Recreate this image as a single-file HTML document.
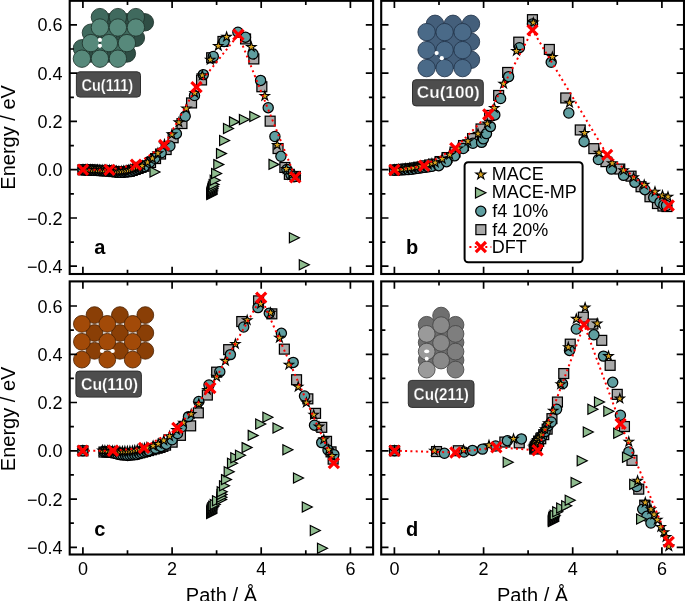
<!DOCTYPE html>
<html lang="en"><head><meta charset="utf-8"><title>Energy profiles</title>
<style>html,body{margin:0;padding:0;background:#fff;overflow:hidden}svg{display:block}</style>
</head><body>
<svg width="685" height="601" viewBox="0 0 685 601" font-family='"Liberation Sans", sans-serif' fill="#000">
<rect width="685" height="601" fill="#fff"/>
<clipPath id="cp0"><rect x="69.7" y="0.8" width="303.4" height="273.2"/></clipPath>
<clipPath id="cp1"><rect x="381.2" y="0.8" width="302.8" height="273.2"/></clipPath>
<clipPath id="cp2"><rect x="69.7" y="281.4" width="303.4" height="273.1"/></clipPath>
<clipPath id="cp3"><rect x="381.2" y="281.4" width="302.8" height="273.1"/></clipPath>
<g stroke="#1f332c" stroke-width="0.85">
<circle cx="108.9" cy="22.3" r="8.7" fill="#2f4e45"/><circle cx="126.9" cy="22.3" r="8.7" fill="#2f4e45"/><circle cx="144.9" cy="22.3" r="8.7" fill="#2f4e45"/><circle cx="99.9" cy="37.9" r="8.7" fill="#2f4e45"/><circle cx="117.9" cy="37.9" r="8.7" fill="#2f4e45"/><circle cx="135.9" cy="37.9" r="8.7" fill="#2f4e45"/><circle cx="90.9" cy="53.5" r="8.7" fill="#2f4e45"/><circle cx="108.9" cy="53.5" r="8.7" fill="#2f4e45"/><circle cx="126.9" cy="53.5" r="8.7" fill="#2f4e45"/><circle cx="99.9" cy="17.1" r="8.7" fill="#406a5e"/><circle cx="117.9" cy="17.1" r="8.7" fill="#406a5e"/><circle cx="135.9" cy="17.1" r="8.7" fill="#406a5e"/><circle cx="90.9" cy="32.7" r="8.7" fill="#406a5e"/><circle cx="108.9" cy="32.7" r="8.7" fill="#406a5e"/><circle cx="126.9" cy="32.7" r="8.7" fill="#406a5e"/><circle cx="81.9" cy="48.3" r="8.7" fill="#406a5e"/><circle cx="99.9" cy="48.3" r="8.7" fill="#406a5e"/><circle cx="117.9" cy="48.3" r="8.7" fill="#406a5e"/><circle cx="99.9" cy="27.5" r="8.7" fill="#57897b"/><circle cx="117.9" cy="27.5" r="8.7" fill="#57897b"/><circle cx="135.9" cy="27.5" r="8.7" fill="#57897b"/><circle cx="90.9" cy="43.1" r="8.7" fill="#57897b"/><circle cx="108.9" cy="43.1" r="8.7" fill="#57897b"/><circle cx="126.9" cy="43.1" r="8.7" fill="#57897b"/><circle cx="81.9" cy="58.7" r="8.7" fill="#57897b"/><circle cx="99.9" cy="58.7" r="8.7" fill="#57897b"/><circle cx="117.9" cy="58.7" r="8.7" fill="#57897b"/>
</g>
<circle cx="99.9" cy="39.9" r="2.1" fill="#fff"/><circle cx="99.9" cy="45.8" r="2.1" fill="#fff"/>
<rect x="76.4" y="71.8" width="64.1" height="25.3" rx="3.5" fill="#4d4d4d" stroke="#2e2e2e" stroke-width="1"/>
<text x="81.4" y="90.7" font-size="16.5" font-weight="bold" fill="#fff" stroke="#4d4d4d" stroke-width="0.25" textLength="51.8" lengthAdjust="spacingAndGlyphs">Cu(111)</text>
<g stroke="#22344a" stroke-width="0.85">
<circle cx="435" cy="23.8" r="8.7" fill="#445f7b"/><circle cx="453" cy="23.8" r="8.7" fill="#445f7b"/><circle cx="471" cy="23.8" r="8.7" fill="#445f7b"/><circle cx="435" cy="41.8" r="8.7" fill="#445f7b"/><circle cx="453" cy="41.8" r="8.7" fill="#445f7b"/><circle cx="471" cy="41.8" r="8.7" fill="#445f7b"/><circle cx="435" cy="59.8" r="8.7" fill="#445f7b"/><circle cx="453" cy="59.8" r="8.7" fill="#445f7b"/><circle cx="471" cy="59.8" r="8.7" fill="#445f7b"/><circle cx="426.6" cy="32.1" r="8.7" fill="#4a6a88"/><circle cx="444.6" cy="32.1" r="8.7" fill="#4a6a88"/><circle cx="462.6" cy="32.1" r="8.7" fill="#4a6a88"/><circle cx="426.6" cy="50.1" r="8.7" fill="#4a6a88"/><circle cx="444.6" cy="50.1" r="8.7" fill="#4a6a88"/><circle cx="462.6" cy="50.1" r="8.7" fill="#4a6a88"/><circle cx="426.6" cy="68.1" r="8.7" fill="#4a6a88"/><circle cx="444.6" cy="68.1" r="8.7" fill="#4a6a88"/><circle cx="462.6" cy="68.1" r="8.7" fill="#4a6a88"/>
</g>
<circle cx="436.6" cy="53.1" r="2.1" fill="#fff"/><circle cx="441.8" cy="58.2" r="2.1" fill="#fff"/>
<rect x="412.5" y="79.7" width="70.8" height="26.2" rx="3.5" fill="#4d4d4d" stroke="#2e2e2e" stroke-width="1"/>
<text x="416.8" y="98" font-size="16.5" font-weight="bold" fill="#fff" stroke="#4d4d4d" stroke-width="0.25" textLength="62.9" lengthAdjust="spacingAndGlyphs">Cu(100)</text>
<g stroke="#4e2303" stroke-width="0.85">
<circle cx="94.5" cy="315.1" r="8.4" fill="#8a3f06"/><circle cx="119.9" cy="315.1" r="8.4" fill="#8a3f06"/><circle cx="145.3" cy="315.1" r="8.4" fill="#8a3f06"/><circle cx="94.5" cy="333" r="8.4" fill="#8a3f06"/><circle cx="119.9" cy="333" r="8.4" fill="#8a3f06"/><circle cx="145.3" cy="333" r="8.4" fill="#8a3f06"/><circle cx="94.5" cy="350.8" r="8.4" fill="#8a3f06"/><circle cx="119.9" cy="350.8" r="8.4" fill="#8a3f06"/><circle cx="145.3" cy="350.8" r="8.4" fill="#8a3f06"/><circle cx="81.9" cy="323.9" r="8.4" fill="#a24a08"/><circle cx="107.3" cy="323.9" r="8.4" fill="#a24a08"/><circle cx="132.7" cy="323.9" r="8.4" fill="#a24a08"/><circle cx="81.9" cy="341.8" r="8.4" fill="#a24a08"/><circle cx="107.3" cy="341.8" r="8.4" fill="#a24a08"/><circle cx="132.7" cy="341.8" r="8.4" fill="#a24a08"/><circle cx="81.9" cy="359.6" r="8.4" fill="#a24a08"/><circle cx="107.3" cy="359.6" r="8.4" fill="#a24a08"/><circle cx="132.7" cy="359.6" r="8.4" fill="#a24a08"/>
</g>
<circle cx="102" cy="351" r="2.1" fill="#fff"/><circle cx="112.7" cy="351" r="2.1" fill="#fff"/>
<rect x="75.9" y="371.1" width="65.5" height="26" rx="3.5" fill="#4d4d4d" stroke="#2e2e2e" stroke-width="1"/>
<text x="81" y="390.4" font-size="16.5" font-weight="bold" fill="#fff" stroke="#4d4d4d" stroke-width="0.25" textLength="57.1" lengthAdjust="spacingAndGlyphs">Cu(110)</text>
<g stroke="#444" stroke-width="0.85">
<circle cx="426.7" cy="324.8" r="8.4" fill="#6f6f6f"/><circle cx="426.7" cy="342.4" r="8.4" fill="#6f6f6f"/><circle cx="426.7" cy="360.1" r="8.4" fill="#6f6f6f"/><circle cx="455.5" cy="324.8" r="8.4" fill="#6f6f6f"/><circle cx="455.5" cy="342.4" r="8.4" fill="#6f6f6f"/><circle cx="455.5" cy="360.1" r="8.4" fill="#6f6f6f"/><circle cx="441.1" cy="315.6" r="8.4" fill="#6f6f6f"/><circle cx="441.1" cy="333.9" r="8.4" fill="#6f6f6f"/><circle cx="441.1" cy="351.6" r="8.4" fill="#6f6f6f"/><circle cx="455.5" cy="333.9" r="8.4" fill="#7e7e7e"/><circle cx="455.5" cy="351.6" r="8.4" fill="#7e7e7e"/><circle cx="455.5" cy="369.6" r="8.4" fill="#7e7e7e"/><circle cx="426.7" cy="333.9" r="8.4" fill="#9a9a9a"/><circle cx="426.7" cy="351.6" r="8.4" fill="#9a9a9a"/><circle cx="426.7" cy="369.6" r="8.4" fill="#9a9a9a"/><circle cx="441.1" cy="325.2" r="8.4" fill="#898989"/><circle cx="441.1" cy="342.9" r="8.4" fill="#898989"/><circle cx="441.1" cy="360.5" r="8.4" fill="#898989"/>
</g>
<ellipse cx="426.7" cy="351.4" rx="2.6" ry="1.8" fill="#fff"/><circle cx="426.7" cy="358.8" r="2.0" fill="#fff"/>
<rect x="408.3" y="380.4" width="65.7" height="27" rx="3.5" fill="#4d4d4d" stroke="#2e2e2e" stroke-width="1"/>
<text x="413.6" y="399.8" font-size="16.5" font-weight="bold" fill="#fff" stroke="#4d4d4d" stroke-width="0.25" textLength="55.3" lengthAdjust="spacingAndGlyphs">Cu(211)</text>
<g clip-path="url(#cp0)">
<g fill="#A9A9A9" stroke="#000" stroke-width="1.25">
<rect x="78" y="164.8" width="9.9" height="9.9"/><rect x="81.1" y="164.9" width="9.9" height="9.9"/><rect x="84.2" y="165" width="9.9" height="9.9"/><rect x="87.3" y="165.2" width="9.9" height="9.9"/><rect x="90.4" y="165.3" width="9.9" height="9.9"/><rect x="93.5" y="165.5" width="9.9" height="9.9"/><rect x="96.6" y="165.6" width="9.9" height="9.9"/><rect x="99.7" y="165.8" width="9.9" height="9.9"/><rect x="102.8" y="165.9" width="9.9" height="9.9"/><rect x="105.9" y="166.2" width="9.9" height="9.9"/><rect x="109" y="166.6" width="9.9" height="9.9"/><rect x="112.1" y="167" width="9.9" height="9.9"/><rect x="115.1" y="167.3" width="9.9" height="9.9"/><rect x="118.2" y="167" width="9.9" height="9.9"/><rect x="121.3" y="166.7" width="9.9" height="9.9"/><rect x="124.4" y="166.4" width="9.9" height="9.9"/><rect x="127.3" y="165.5" width="9.9" height="9.9"/><rect x="130.3" y="164.5" width="9.9" height="9.9"/><rect x="133.2" y="163.5" width="9.9" height="9.9"/><rect x="136.1" y="162.4" width="9.9" height="9.9"/><rect x="139" y="161.3" width="9.9" height="9.9"/><rect x="145.6" y="157.6" width="9.9" height="9.9"/><rect x="150.6" y="153.6" width="9.9" height="9.9"/><rect x="155.6" y="149.1" width="9.9" height="9.9"/><rect x="161.2" y="144.6" width="9.9" height="9.9"/><rect x="168.2" y="132.8" width="9.9" height="9.9"/><rect x="177" y="118.6" width="9.9" height="9.9"/><rect x="186.6" y="98" width="9.9" height="9.9"/><rect x="196.6" y="75" width="9.9" height="9.9"/><rect x="206.7" y="52.8" width="9.9" height="9.9"/><rect x="218" y="36.5" width="9.9" height="9.9"/><rect x="240.6" y="34" width="9.9" height="9.9"/><rect x="248.9" y="54" width="9.9" height="9.9"/><rect x="256.9" y="81.8" width="9.9" height="9.9"/><rect x="265.2" y="116.2" width="9.9" height="9.9"/><rect x="273.1" y="143.6" width="9.9" height="9.9"/><rect x="279.9" y="162.5" width="9.9" height="9.9"/><rect x="284.4" y="169.4" width="9.9" height="9.9"/><rect x="290.4" y="171.5" width="9.9" height="9.9"/>
</g>
<g fill="#5F9EA0" stroke="#000" stroke-width="1.25">
<circle cx="83" cy="169.9" r="5.1"/><circle cx="85.7" cy="170" r="5.1"/><circle cx="88.4" cy="170.1" r="5.1"/><circle cx="91.1" cy="170.2" r="5.1"/><circle cx="93.8" cy="170.3" r="5.1"/><circle cx="96.5" cy="170.4" r="5.1"/><circle cx="99.2" cy="170.6" r="5.1"/><circle cx="101.9" cy="170.7" r="5.1"/><circle cx="104.6" cy="170.8" r="5.1"/><circle cx="107.3" cy="170.9" r="5.1"/><circle cx="110" cy="171" r="5.1"/><circle cx="112.6" cy="171.4" r="5.1"/><circle cx="115.3" cy="171.8" r="5.1"/><circle cx="118" cy="172.2" r="5.1"/><circle cx="120.7" cy="172.4" r="5.1"/><circle cx="123.3" cy="172.2" r="5.1"/><circle cx="126" cy="171.9" r="5.1"/><circle cx="128.7" cy="171.6" r="5.1"/><circle cx="131.3" cy="171" r="5.1"/><circle cx="133.9" cy="170.1" r="5.1"/><circle cx="136.4" cy="169.2" r="5.1"/><circle cx="139" cy="168.4" r="5.1"/><circle cx="141.5" cy="167.5" r="5.1"/><circle cx="144.1" cy="166.6" r="5.1"/><circle cx="149.8" cy="162.3" r="5.1"/><circle cx="154.8" cy="158.3" r="5.1"/><circle cx="161.2" cy="152.8" r="5.1"/><circle cx="169.9" cy="146" r="5.1"/><circle cx="176.4" cy="133.7" r="5.1"/><circle cx="185.2" cy="116.3" r="5.1"/><circle cx="194.5" cy="95.5" r="5.1"/><circle cx="203.3" cy="74.6" r="5.1"/><circle cx="213.3" cy="56.5" r="5.1"/><circle cx="224.1" cy="41.5" r="5.1"/><circle cx="237.9" cy="32.2" r="5.1"/><circle cx="245.5" cy="37.2" r="5.1"/><circle cx="253" cy="54" r="5.1"/><circle cx="260.6" cy="80.4" r="5.1"/><circle cx="268.2" cy="107.7" r="5.1"/><circle cx="274.9" cy="136.5" r="5.1"/><circle cx="280.9" cy="156.3" r="5.1"/><circle cx="286.9" cy="169.5" r="5.1"/><circle cx="291" cy="174.5" r="5.1"/><circle cx="294" cy="176.7" r="5.1"/>
</g>
<g fill="#8FBC8F" stroke="#000" stroke-width="1.2" stroke-linejoin="miter">
<polygon points="150,167 160,172 150,177"/><polygon points="206.8,189.6 216.8,194.6 206.8,199.6"/><polygon points="206.9,188.8 216.9,193.8 206.9,198.8"/><polygon points="207,188 217,193 207,198"/><polygon points="207.1,187.1 217.1,192.1 207.1,197.1"/><polygon points="207.3,186.1 217.3,191.1 207.3,196.1"/><polygon points="207.6,184.9 217.6,189.9 207.6,194.9"/><polygon points="207.9,183.5 217.9,188.5 207.9,193.5"/><polygon points="208.4,181.8 218.4,186.8 208.4,191.8"/><polygon points="209.1,179.6 219.1,184.6 209.1,189.6"/><polygon points="210.2,175.3 220.2,180.3 210.2,185.3"/><polygon points="211.6,168.5 221.6,173.5 211.6,178.5"/><polygon points="213.8,159.6 223.8,164.6 213.8,169.6"/><polygon points="216.5,148.6 226.5,153.6 216.5,158.6"/><polygon points="219.6,135.5 229.6,140.5 219.6,145.5"/><polygon points="223.5,123.5 233.5,128.5 223.5,133.5"/><polygon points="229.5,116.9 239.5,121.9 229.5,126.9"/><polygon points="239.4,114.5 249.4,119.5 239.4,124.5"/><polygon points="249.8,111.5 259.8,116.5 249.8,121.5"/><polygon points="269,159.4 279,164.4 269,169.4"/><polygon points="289.4,232.8 299.4,237.8 289.4,242.8"/><polygon points="299.3,259.8 309.3,264.8 299.3,269.8"/>
</g>
<g fill="#DAA520" stroke="#000" stroke-width="1.1" stroke-linejoin="miter">
<polygon points="83,164.8 84.1,168.2 87.7,168.2 84.8,170.3 85.9,173.7 83,171.6 80.1,173.7 81.2,170.3 78.3,168.2 81.9,168.2"/><polygon points="85.4,164.9 86.5,168.2 90.1,168.2 87.2,170.3 88.3,173.7 85.4,171.6 82.5,173.7 83.6,170.3 80.7,168.2 84.3,168.2"/><polygon points="87.8,164.9 88.9,168.3 92.5,168.3 89.6,170.4 90.7,173.8 87.8,171.7 84.9,173.8 86,170.4 83.1,168.3 86.7,168.3"/><polygon points="90.2,165 91.3,168.3 94.9,168.3 92,170.4 93.1,173.8 90.2,171.7 87.3,173.8 88.4,170.4 85.5,168.3 89.1,168.3"/><polygon points="92.6,165 93.7,168.4 97.3,168.4 94.4,170.5 95.5,173.9 92.6,171.8 89.7,173.9 90.8,170.5 87.9,168.4 91.5,168.4"/><polygon points="95,165.1 96.1,168.5 99.7,168.5 96.8,170.5 97.9,173.9 95,171.8 92.1,173.9 93.2,170.5 90.3,168.5 93.9,168.5"/><polygon points="97.4,165.1 98.5,168.5 102.1,168.5 99.2,170.6 100.3,174 97.4,171.9 94.5,174 95.6,170.6 92.7,168.5 96.3,168.5"/><polygon points="99.8,165.2 100.9,168.6 104.5,168.6 101.6,170.7 102.7,174 99.8,171.9 96.9,174 98,170.7 95.1,168.6 98.7,168.6"/><polygon points="102.2,165.2 103.3,168.6 106.9,168.6 104,170.7 105.1,174.1 102.2,172 99.3,174.1 100.4,170.7 97.5,168.6 101.1,168.6"/><polygon points="104.6,165.3 105.7,168.7 109.3,168.7 106.4,170.8 107.5,174.1 104.6,172.1 101.7,174.1 102.8,170.8 99.9,168.7 103.5,168.7"/><polygon points="107,165.3 108.1,168.7 111.7,168.7 108.8,170.8 109.9,174.2 107,172.1 104.1,174.2 105.2,170.8 102.3,168.7 105.9,168.7"/><polygon points="109.4,165.4 110.5,168.8 114.1,168.8 111.2,170.9 112.3,174.3 109.4,172.2 106.5,174.3 107.6,170.9 104.7,168.8 108.3,168.8"/><polygon points="111.8,165.6 112.9,169 116.4,169 113.6,171.1 114.7,174.5 111.8,172.4 108.9,174.5 110,171.1 107.1,169 110.7,169"/><polygon points="114.2,165.9 115.3,169.3 118.8,169.3 115.9,171.4 117,174.8 114.2,172.7 111.3,174.8 112.4,171.4 109.5,169.3 113.1,169.3"/><polygon points="116.5,166.2 117.6,169.6 121.2,169.6 118.3,171.7 119.4,175 116.5,173 113.7,175 114.8,171.7 111.9,169.6 115.4,169.6"/><polygon points="118.9,166.5 120,169.9 123.6,169.9 120.7,171.9 121.8,175.3 118.9,173.2 116,175.3 117.1,171.9 114.3,169.9 117.8,169.9"/><polygon points="121.3,166.4 122.4,169.8 126,169.8 123.1,171.9 124.2,175.3 121.3,173.2 118.4,175.3 119.5,171.9 116.6,169.8 120.2,169.8"/><polygon points="123.7,166 124.8,169.4 128.3,169.4 125.5,171.5 126.6,174.9 123.7,172.8 120.8,174.9 121.9,171.5 119,169.4 122.6,169.4"/><polygon points="126.1,165.7 127.2,169.1 130.7,169.1 127.8,171.2 128.9,174.6 126.1,172.5 123.2,174.6 124.3,171.2 121.4,169.1 125,169.1"/><polygon points="128.4,165.3 129.5,168.7 133.1,168.7 130.2,170.8 131.3,174.2 128.4,172.1 125.5,174.2 126.6,170.8 123.8,168.7 127.3,168.7"/><polygon points="130.8,164.8 131.9,168.2 135.4,168.2 132.5,170.3 133.6,173.7 130.8,171.6 127.9,173.7 129,170.3 126.1,168.2 129.7,168.2"/><polygon points="133,164 134.1,167.4 137.7,167.4 134.8,169.5 135.9,172.9 133,170.8 130.1,172.9 131.2,169.5 128.4,167.4 131.9,167.4"/><polygon points="135.3,163.2 136.4,166.6 139.9,166.6 137.1,168.7 138.2,172.1 135.3,170 132.4,172.1 133.5,168.7 130.6,166.6 134.2,166.6"/><polygon points="137.6,162.4 138.7,165.8 142.2,165.8 139.3,167.9 140.4,171.3 137.6,169.2 134.7,171.3 135.8,167.9 132.9,165.8 136.5,165.8"/><polygon points="139.8,161.7 140.9,165.1 144.5,165.1 141.6,167.2 142.7,170.6 139.8,168.5 137,170.6 138.1,167.2 135.2,165.1 138.7,165.1"/><polygon points="142.1,161 143.2,164.4 146.8,164.4 143.9,166.5 145,169.9 142.1,167.8 139.3,169.9 140.4,166.5 137.5,164.4 141,164.4"/><polygon points="147.6,157.5 148.7,160.9 152.3,160.9 149.4,163 150.5,166.4 147.6,164.3 144.7,166.4 145.8,163 142.9,160.9 146.5,160.9"/><polygon points="152.4,153.5 153.5,156.9 157.1,156.9 154.2,159 155.3,162.4 152.4,160.3 149.5,162.4 150.6,159 147.7,156.9 151.3,156.9"/><polygon points="157.9,148.3 159,151.7 162.6,151.7 159.7,153.8 160.8,157.2 157.9,155.1 155,157.2 156.1,153.8 153.2,151.7 156.8,151.7"/><polygon points="164.5,139.6 165.6,143 169.2,143 166.3,145.1 167.4,148.5 164.5,146.4 161.6,148.5 162.7,145.1 159.8,143 163.4,143"/><polygon points="171.9,129.5 173,132.9 176.6,132.9 173.7,135 174.8,138.4 171.9,136.3 169,138.4 170.1,135 167.2,132.9 170.8,132.9"/><polygon points="178.9,117.5 180,120.9 183.6,120.9 180.7,123 181.8,126.4 178.9,124.3 176,126.4 177.1,123 174.2,120.9 177.8,120.9"/><polygon points="186.4,103.6 187.5,107 191.1,107 188.2,109.1 189.3,112.5 186.4,110.4 183.5,112.5 184.6,109.1 181.7,107 185.3,107"/><polygon points="194.7,88.1 195.8,91.5 199.4,91.5 196.5,93.6 197.6,97 194.7,94.9 191.8,97 192.9,93.6 190,91.5 193.6,91.5"/><polygon points="202.3,70.5 203.4,73.9 207,73.9 204.1,76 205.2,79.4 202.3,77.3 199.4,79.4 200.5,76 197.6,73.9 201.2,73.9"/><polygon points="210.3,54.9 211.4,58.3 215,58.3 212.1,60.4 213.2,63.8 210.3,61.7 207.4,63.8 208.5,60.4 205.6,58.3 209.2,58.3"/><polygon points="218.3,41.1 219.4,44.5 223,44.5 220.1,46.6 221.2,50 218.3,47.9 215.4,50 216.5,46.6 213.6,44.5 217.2,44.5"/><polygon points="226.6,32 227.7,35.4 231.3,35.4 228.4,37.5 229.5,40.9 226.6,38.8 223.7,40.9 224.8,37.5 221.9,35.4 225.5,35.4"/><polygon points="251.3,42.1 252.4,45.5 256,45.5 253.1,47.6 254.2,51 251.3,48.9 248.4,51 249.5,47.6 246.6,45.5 250.2,45.5"/><polygon points="264.8,91.1 265.9,94.5 269.5,94.5 266.6,96.6 267.7,100 264.8,97.9 261.9,100 263,96.6 260.1,94.5 263.7,94.5"/><polygon points="277.2,140.1 278.3,143.5 281.9,143.5 279,145.6 280.1,149 277.2,146.9 274.3,149 275.4,145.6 272.5,143.5 276.1,143.5"/><polygon points="286.3,164.1 287.4,167.5 291,167.5 288.1,169.6 289.2,173 286.3,170.9 283.4,173 284.5,169.6 281.6,167.5 285.2,167.5"/><polygon points="291.5,170.1 292.6,173.5 296.2,173.5 293.3,175.6 294.4,179 291.5,176.9 288.6,179 289.7,175.6 286.8,173.5 290.4,173.5"/><polygon points="295,172.1 296.1,175.5 299.7,175.5 296.8,177.6 297.9,181 295,178.9 292.1,181 293.2,177.6 290.3,175.5 293.9,175.5"/>
</g>
<polyline points="82.9,169.7 109.5,169.8 136,164.7 164.2,145.1 196.5,87.2 238.4,34.7 295.3,177.3" fill="none" stroke="#f00" stroke-width="2" stroke-dasharray="2 3.3"/>
<g fill="none" stroke="#f00" stroke-width="3.2">
<path d="M77.9 164.6L88 174.8M77.9 174.8L88 164.6"/><path d="M104.5 164.8L114.5 174.9M104.5 174.9L114.5 164.8"/><path d="M130.9 159.6L141.1 169.8M130.9 169.8L141.1 159.6"/><path d="M159.1 140L169.2 150.2M159.1 150.2L169.2 140"/><path d="M191.4 82.2L201.6 92.2M191.4 92.2L201.6 82.2"/><path d="M233.3 29.7L243.5 39.8M233.3 39.8L243.5 29.7"/><path d="M290.2 172.2L300.4 182.4M290.2 182.4L300.4 172.2"/>
</g>
</g>
<g clip-path="url(#cp1)">
<g fill="#A9A9A9" stroke="#000" stroke-width="1.25">
<rect x="389.6" y="165.1" width="9.9" height="9.9"/><rect x="393.1" y="164.8" width="9.9" height="9.9"/><rect x="396.7" y="164.5" width="9.9" height="9.9"/><rect x="400.3" y="164.2" width="9.9" height="9.9"/><rect x="403.9" y="163.9" width="9.9" height="9.9"/><rect x="407.5" y="163.5" width="9.9" height="9.9"/><rect x="411" y="162.9" width="9.9" height="9.9"/><rect x="414.6" y="162.3" width="9.9" height="9.9"/><rect x="418.1" y="161.7" width="9.9" height="9.9"/><rect x="421.6" y="160.9" width="9.9" height="9.9"/><rect x="425.1" y="160" width="9.9" height="9.9"/><rect x="428.6" y="159.2" width="9.9" height="9.9"/><rect x="435.1" y="156.6" width="9.9" height="9.9"/><rect x="442.1" y="152.6" width="9.9" height="9.9"/><rect x="450.1" y="147.1" width="9.9" height="9.9"/><rect x="458.6" y="140.6" width="9.9" height="9.9"/><rect x="467.6" y="133.6" width="9.9" height="9.9"/><rect x="476.1" y="124" width="9.9" height="9.9"/><rect x="484.6" y="110.5" width="9.9" height="9.9"/><rect x="493.7" y="90.5" width="9.9" height="9.9"/><rect x="502.7" y="67.5" width="9.9" height="9.9"/><rect x="513.8" y="37.2" width="9.9" height="9.9"/><rect x="527.5" y="14.7" width="9.9" height="9.9"/><rect x="544.4" y="44.5" width="9.9" height="9.9"/><rect x="560.8" y="93" width="9.9" height="9.9"/><rect x="575.3" y="125" width="9.9" height="9.9"/><rect x="588.9" y="143.7" width="9.9" height="9.9"/><rect x="601" y="156.7" width="9.9" height="9.9"/><rect x="614.8" y="164.1" width="9.9" height="9.9"/><rect x="626.1" y="171.2" width="9.9" height="9.9"/><rect x="636.1" y="181.8" width="9.9" height="9.9"/><rect x="645" y="191.8" width="9.9" height="9.9"/><rect x="652.5" y="198.6" width="9.9" height="9.9"/><rect x="658" y="201.1" width="9.9" height="9.9"/><rect x="662" y="201.6" width="9.9" height="9.9"/>
</g>
<g fill="#5F9EA0" stroke="#000" stroke-width="1.25">
<circle cx="394.5" cy="170.2" r="5.1"/><circle cx="397.9" cy="170" r="5.1"/><circle cx="401.3" cy="169.9" r="5.1"/><circle cx="404.7" cy="169.7" r="5.1"/><circle cx="408.1" cy="169.6" r="5.1"/><circle cx="411.5" cy="169.3" r="5.1"/><circle cx="414.8" cy="168.8" r="5.1"/><circle cx="418.2" cy="168.3" r="5.1"/><circle cx="421.6" cy="167.8" r="5.1"/><circle cx="424.9" cy="167.4" r="5.1"/><circle cx="428.3" cy="166.9" r="5.1"/><circle cx="431.7" cy="166.4" r="5.1"/><circle cx="438.7" cy="165.7" r="5.1"/><circle cx="446.6" cy="161.7" r="5.1"/><circle cx="454.5" cy="155.9" r="5.1"/><circle cx="463.2" cy="148.5" r="5.1"/><circle cx="472.9" cy="143.3" r="5.1"/><circle cx="481.6" cy="142.4" r="5.1"/><circle cx="483.4" cy="138.9" r="5.1"/><circle cx="486.5" cy="133.6" r="5.1"/><circle cx="490.4" cy="126.6" r="5.1"/><circle cx="494.8" cy="114.9" r="5.1"/><circle cx="500.6" cy="98.5" r="5.1"/><circle cx="508.6" cy="76.6" r="5.1"/><circle cx="519.4" cy="47.7" r="5.1"/><circle cx="532.5" cy="23.9" r="5.1"/><circle cx="551.2" cy="62.3" r="5.1"/><circle cx="568.8" cy="113" r="5.1"/><circle cx="584.1" cy="141.7" r="5.1"/><circle cx="598.4" cy="159.5" r="5.1"/><circle cx="611.5" cy="169.1" r="5.1"/><circle cx="623.6" cy="175.4" r="5.1"/><circle cx="634.9" cy="182.4" r="5.1"/><circle cx="644.9" cy="189.7" r="5.1"/><circle cx="653.7" cy="197.5" r="5.1"/><circle cx="660" cy="202.3" r="5.1"/><circle cx="663.8" cy="205" r="5.1"/><circle cx="666.5" cy="205.5" r="5.1"/>
</g>
<g fill="#DAA520" stroke="#000" stroke-width="1.1" stroke-linejoin="miter">
<polygon points="394.5,165 395.6,168.4 399.2,168.4 396.3,170.5 397.4,173.9 394.5,171.8 391.6,173.9 392.7,170.5 389.8,168.4 393.4,168.4"/><polygon points="398.3,164.6 399.4,168 402.9,168 400.1,170.1 401.2,173.5 398.3,171.4 395.4,173.5 396.5,170.1 393.6,168 397.2,168"/><polygon points="402.1,164.2 403.2,167.6 406.7,167.6 403.8,169.7 404.9,173.1 402.1,171 399.2,173.1 400.3,169.7 397.4,167.6 401,167.6"/><polygon points="405.8,163.8 406.9,167.2 410.5,167.2 407.6,169.3 408.7,172.7 405.8,170.6 403,172.7 404.1,169.3 401.2,167.2 404.7,167.2"/><polygon points="409.6,163.4 410.7,166.8 414.3,166.8 411.4,168.9 412.5,172.3 409.6,170.2 406.7,172.3 407.8,168.9 405,166.8 408.5,166.8"/><polygon points="413.4,162.8 414.5,166.2 418,166.2 415.1,168.3 416.2,171.7 413.4,169.6 410.5,171.7 411.6,168.3 408.7,166.2 412.3,166.2"/><polygon points="417.1,162.1 418.2,165.5 421.8,165.5 418.9,167.6 420,171 417.1,168.9 414.2,171 415.3,167.6 412.4,165.5 416,165.5"/><polygon points="420.8,161.5 421.9,164.8 425.5,164.8 422.6,166.9 423.7,170.3 420.8,168.2 418,170.3 419.1,166.9 416.2,164.8 419.7,164.8"/><polygon points="424.6,160.7 425.7,164.1 429.2,164.1 426.4,166.2 427.5,169.6 424.6,167.5 421.7,169.6 422.8,166.2 419.9,164.1 423.5,164.1"/><polygon points="428.2,159.7 429.3,163.1 432.9,163.1 430,165.2 431.1,168.6 428.2,166.5 425.4,168.6 426.5,165.2 423.6,163.1 427.1,163.1"/><polygon points="431.9,158.7 433,162.1 436.6,162.1 433.7,164.2 434.8,167.6 431.9,165.5 429,167.6 430.1,164.2 427.2,162.1 430.8,162.1"/><polygon points="435.2,157.7 436.3,161.1 439.9,161.1 437,163.2 438.1,166.6 435.2,164.5 432.3,166.6 433.4,163.2 430.5,161.1 434.1,161.1"/><polygon points="442.2,154.1 443.3,157.5 446.9,157.5 444,159.6 445.1,163 442.2,160.9 439.3,163 440.4,159.6 437.5,157.5 441.1,157.5"/><polygon points="449.7,149.8 450.8,153.2 454.4,153.2 451.5,155.3 452.6,158.7 449.7,156.6 446.8,158.7 447.9,155.3 445,153.2 448.6,153.2"/><polygon points="458,143.6 459.1,147 462.7,147 459.8,149.1 460.9,152.5 458,150.4 455.1,152.5 456.2,149.1 453.3,147 456.9,147"/><polygon points="467.9,136.3 469,139.7 472.6,139.7 469.7,141.8 470.8,145.2 467.9,143.1 465,145.2 466.1,141.8 463.2,139.7 466.8,139.7"/><polygon points="478,128.8 479.1,132.2 482.7,132.2 479.8,134.3 480.9,137.7 478,135.6 475.1,137.7 476.2,134.3 473.3,132.2 476.9,132.2"/><polygon points="487.3,118.7 488.4,122.1 492,122.1 489.1,124.2 490.2,127.6 487.3,125.5 484.4,127.6 485.5,124.2 482.6,122.1 486.2,122.1"/><polygon points="494.3,103.1 495.4,106.5 499,106.5 496.1,108.6 497.2,112 494.3,109.9 491.4,112 492.5,108.6 489.6,106.5 493.2,106.5"/><polygon points="503.6,78.8 504.7,82.2 508.3,82.2 505.4,84.3 506.5,87.7 503.6,85.6 500.7,87.7 501.8,84.3 498.9,82.2 502.5,82.2"/><polygon points="516.4,46.1 517.5,49.5 521.1,49.5 518.2,51.6 519.3,55 516.4,52.9 513.5,55 514.6,51.6 511.7,49.5 515.3,49.5"/><polygon points="533.3,17.7 534.4,21.1 538,21.1 535.1,23.2 536.2,26.6 533.3,24.5 530.4,26.6 531.5,23.2 528.6,21.1 532.2,21.1"/><polygon points="552.4,52.1 553.5,55.5 557.1,55.5 554.2,57.6 555.3,61 552.4,58.9 549.5,61 550.6,57.6 547.7,55.5 551.3,55.5"/><polygon points="569.5,97.8 570.6,101.2 574.2,101.2 571.3,103.3 572.4,106.7 569.5,104.6 566.6,106.7 567.7,103.3 564.8,101.2 568.4,101.2"/><polygon points="584.6,128.1 585.7,131.5 589.3,131.5 586.4,133.6 587.5,137 584.6,134.9 581.7,137 582.8,133.6 579.9,131.5 583.5,131.5"/><polygon points="599,147.9 600.1,151.3 603.7,151.3 600.8,153.4 601.9,156.8 599,154.7 596.1,156.8 597.2,153.4 594.3,151.3 597.9,151.3"/><polygon points="612.2,158.4 613.3,161.8 616.9,161.8 614,163.9 615.1,167.3 612.2,165.2 609.3,167.3 610.4,163.9 607.5,161.8 611.1,161.8"/><polygon points="623.6,165.5 624.7,168.9 628.3,168.9 625.4,171 626.5,174.4 623.6,172.3 620.7,174.4 621.8,171 618.9,168.9 622.5,168.9"/><polygon points="633.6,172.5 634.7,175.9 638.3,175.9 635.4,178 636.5,181.4 633.6,179.3 630.7,181.4 631.8,178 628.9,175.9 632.5,175.9"/><polygon points="644.2,180 645.3,183.4 648.9,183.4 646,185.5 647.1,188.9 644.2,186.8 641.3,188.9 642.4,185.5 639.5,183.4 643.1,183.4"/><polygon points="655,186.8 656.1,190.2 659.7,190.2 656.8,192.3 657.9,195.7 655,193.6 652.1,195.7 653.2,192.3 650.3,190.2 653.9,190.2"/><polygon points="662.5,190.6 663.6,194 667.2,194 664.3,196.1 665.4,199.5 662.5,197.4 659.6,199.5 660.7,196.1 657.8,194 661.4,194"/><polygon points="668,191.8 669.1,195.2 672.7,195.2 669.8,197.3 670.9,200.7 668,198.6 665.1,200.7 666.2,197.3 663.3,195.2 666.9,195.2"/>
</g>
<polyline points="394.4,169.9 424.1,165.7 455.3,148.2 488.3,114.4 532.5,30.2 607.2,154.8 668.8,205.5" fill="none" stroke="#f00" stroke-width="2" stroke-dasharray="2 3.3"/>
<g fill="none" stroke="#f00" stroke-width="3.2">
<path d="M389.3 164.8L399.4 175M389.3 175L399.4 164.8"/><path d="M419.1 160.6L429.2 170.8M419.1 170.8L429.2 160.6"/><path d="M450.2 143.1L460.4 153.2M450.2 153.2L460.4 143.1"/><path d="M483.2 109.4L493.4 119.5M483.2 119.5L493.4 109.4"/><path d="M527.5 25.1L537.5 35.2M527.5 35.2L537.5 25.1"/><path d="M602.2 149.8L612.2 159.9M602.2 159.9L612.2 149.8"/><path d="M663.8 200.4L673.8 210.6M663.8 210.6L673.8 200.4"/>
</g>
</g>
<g clip-path="url(#cp2)">
<g fill="#A9A9A9" stroke="#000" stroke-width="1.25">
<rect x="78" y="445.9" width="9.9" height="9.9"/><rect x="99" y="447.1" width="9.9" height="9.9"/><rect x="102" y="447.1" width="9.9" height="9.9"/><rect x="105" y="447.2" width="9.9" height="9.9"/><rect x="108" y="447.3" width="9.9" height="9.9"/><rect x="111" y="447.9" width="9.9" height="9.9"/><rect x="113.9" y="448.4" width="9.9" height="9.9"/><rect x="116.9" y="448.8" width="9.9" height="9.9"/><rect x="119.9" y="449" width="9.9" height="9.9"/><rect x="122.9" y="449.2" width="9.9" height="9.9"/><rect x="125.9" y="449" width="9.9" height="9.9"/><rect x="128.9" y="448.8" width="9.9" height="9.9"/><rect x="131.9" y="448.6" width="9.9" height="9.9"/><rect x="134.8" y="447.9" width="9.9" height="9.9"/><rect x="137.7" y="447.2" width="9.9" height="9.9"/><rect x="140.6" y="446.5" width="9.9" height="9.9"/><rect x="143.5" y="445.6" width="9.9" height="9.9"/><rect x="146.4" y="444.8" width="9.9" height="9.9"/><rect x="149.3" y="444" width="9.9" height="9.9"/><rect x="152.2" y="443.3" width="9.9" height="9.9"/><rect x="155.1" y="442.5" width="9.9" height="9.9"/><rect x="157.9" y="441.4" width="9.9" height="9.9"/><rect x="160.6" y="440.2" width="9.9" height="9.9"/><rect x="167.2" y="437.2" width="9.9" height="9.9"/><rect x="175.5" y="430.4" width="9.9" height="9.9"/><rect x="185.7" y="420.9" width="9.9" height="9.9"/><rect x="193.4" y="407.9" width="9.9" height="9.9"/><rect x="202.4" y="390.1" width="9.9" height="9.9"/><rect x="211.7" y="367.2" width="9.9" height="9.9"/><rect x="223.7" y="344.7" width="9.9" height="9.9"/><rect x="236.8" y="316.6" width="9.9" height="9.9"/><rect x="253.6" y="295.9" width="9.9" height="9.9"/><rect x="266.9" y="308.9" width="9.9" height="9.9"/><rect x="279.4" y="344.2" width="9.9" height="9.9"/><rect x="291.6" y="374.8" width="9.9" height="9.9"/><rect x="302.9" y="393.9" width="9.9" height="9.9"/><rect x="310.6" y="408.4" width="9.9" height="9.9"/><rect x="316.8" y="422.4" width="9.9" height="9.9"/><rect x="321.6" y="436.4" width="9.9" height="9.9"/><rect x="326.1" y="446.9" width="9.9" height="9.9"/><rect x="328.2" y="454.2" width="9.9" height="9.9"/>
</g>
<g fill="#5F9EA0" stroke="#000" stroke-width="1.25">
<circle cx="82.9" cy="450.8" r="5.1"/><circle cx="104" cy="451.5" r="5.1"/><circle cx="106.4" cy="451.7" r="5.1"/><circle cx="108.8" cy="452" r="5.1"/><circle cx="111.2" cy="452.2" r="5.1"/><circle cx="113.5" cy="452.8" r="5.1"/><circle cx="115.8" cy="453.5" r="5.1"/><circle cx="118" cy="454.3" r="5.1"/><circle cx="120.4" cy="454.7" r="5.1"/><circle cx="122.8" cy="454.9" r="5.1"/><circle cx="125.2" cy="455.1" r="5.1"/><circle cx="127.6" cy="455.4" r="5.1"/><circle cx="129.9" cy="455.2" r="5.1"/><circle cx="132.3" cy="454.9" r="5.1"/><circle cx="134.7" cy="454.7" r="5.1"/><circle cx="137.1" cy="454.4" r="5.1"/><circle cx="139.4" cy="453.6" r="5.1"/><circle cx="141.6" cy="452.8" r="5.1"/><circle cx="143.9" cy="452" r="5.1"/><circle cx="146.2" cy="451.2" r="5.1"/><circle cx="148.4" cy="450.4" r="5.1"/><circle cx="155.5" cy="448.3" r="5.1"/><circle cx="161.1" cy="446.4" r="5.1"/><circle cx="166.2" cy="444.2" r="5.1"/><circle cx="172.1" cy="439.8" r="5.1"/><circle cx="177.5" cy="433.5" r="5.1"/><circle cx="181.4" cy="427" r="5.1"/><circle cx="188.5" cy="416.6" r="5.1"/><circle cx="198.8" cy="401.5" r="5.1"/><circle cx="209" cy="385" r="5.1"/><circle cx="219.8" cy="371.7" r="5.1"/><circle cx="230.4" cy="354.6" r="5.1"/><circle cx="243.7" cy="327" r="5.1"/><circle cx="258" cy="307.6" r="5.1"/><circle cx="269.3" cy="313.2" r="5.1"/><circle cx="281.4" cy="333.3" r="5.1"/><circle cx="293.2" cy="362.4" r="5.1"/><circle cx="304.5" cy="396" r="5.1"/><circle cx="314.5" cy="425.2" r="5.1"/><circle cx="321.7" cy="442.6" r="5.1"/><circle cx="328" cy="450" r="5.1"/><circle cx="333.9" cy="454.6" r="5.1"/>
</g>
<g fill="#8FBC8F" stroke="#000" stroke-width="1.2" stroke-linejoin="miter">
<polygon points="206.6,508.6 216.6,513.6 206.6,518.6"/><polygon points="206.6,507.8 216.6,512.8 206.6,517.8"/><polygon points="206.7,507 216.7,512 206.7,517"/><polygon points="206.8,506.1 216.8,511.1 206.8,516.1"/><polygon points="207,505.1 217,510.1 207,515.1"/><polygon points="207.3,504 217.3,509 207.3,514"/><polygon points="207.8,502.7 217.8,507.7 207.8,512.7"/><polygon points="208.7,501.2 218.7,506.2 208.7,511.2"/><polygon points="210.2,499.5 220.2,504.5 210.2,509.5"/><polygon points="212.5,495.8 222.5,500.8 212.5,505.8"/><polygon points="216.6,494.6 226.6,499.6 216.6,504.6"/><polygon points="216.9,492.2 226.9,497.2 216.9,502.2"/><polygon points="217,489.6 227,494.6 217,499.6"/><polygon points="217.2,486.8 227.2,491.8 217.2,496.8"/><polygon points="219.5,480.8 229.5,485.8 219.5,490.8"/><polygon points="221.5,474.6 231.5,479.6 221.5,484.6"/><polygon points="224.2,466.8 234.2,471.8 224.2,476.8"/><polygon points="227.5,458.2 237.5,463.2 227.5,468.2"/><polygon points="230.8,452.8 240.8,457.8 230.8,462.8"/><polygon points="235.5,450.2 245.5,455.2 235.5,460.2"/><polygon points="242.1,442.6 252.1,447.6 242.1,452.6"/><polygon points="248.2,430.4 258.2,435.4 248.2,440.4"/><polygon points="255.7,419 265.7,424 255.7,429"/><polygon points="262.9,412.3 272.9,417.3 262.9,422.3"/><polygon points="273,423 283,428 273,433"/><polygon points="282.9,444.8 292.9,449.8 282.9,454.8"/><polygon points="293.5,473 303.5,478 293.5,483"/><polygon points="302.3,502 312.3,507 302.3,512"/><polygon points="310.3,525.5 320.3,530.5 310.3,535.5"/><polygon points="317.5,543.3 327.5,548.3 317.5,553.3"/>
</g>
<g fill="#DAA520" stroke="#000" stroke-width="1.1" stroke-linejoin="miter">
<polygon points="82.9,445.9 84,449.3 87.6,449.3 84.7,451.4 85.8,454.8 82.9,452.7 80,454.8 81.1,451.4 78.2,449.3 81.8,449.3"/><polygon points="102.4,445.6 103.5,449 107.1,449 104.2,451.1 105.3,454.5 102.4,452.4 99.5,454.5 100.6,451.1 97.7,449 101.3,449"/><polygon points="104.9,445.7 106,449.1 109.6,449.1 106.7,451.2 107.8,454.6 104.9,452.5 102,454.6 103.1,451.2 100.2,449.1 103.8,449.1"/><polygon points="107.4,445.8 108.5,449.2 112.1,449.2 109.2,451.3 110.3,454.7 107.4,452.6 104.5,454.7 105.6,451.3 102.7,449.2 106.3,449.2"/><polygon points="109.9,446 111,449.3 114.6,449.3 111.7,451.4 112.8,454.8 109.9,452.7 107,454.8 108.1,451.4 105.2,449.3 108.8,449.3"/><polygon points="112.4,446.1 113.5,449.5 117,449.5 114.2,451.5 115.3,454.9 112.4,452.8 109.5,454.9 110.6,451.5 107.7,449.5 111.3,449.5"/><polygon points="114.9,446.2 116,449.6 119.5,449.6 116.7,451.7 117.8,455.1 114.9,453 112,455.1 113.1,451.7 110.2,449.6 113.8,449.6"/><polygon points="117.4,446.4 118.5,449.8 122,449.8 119.2,451.9 120.3,455.3 117.4,453.2 114.5,455.3 115.6,451.9 112.7,449.8 116.3,449.8"/><polygon points="119.9,446.6 121,450 124.5,450 121.7,452.1 122.8,455.5 119.9,453.4 117,455.5 118.1,452.1 115.2,450 118.8,450"/><polygon points="122.4,446.5 123.5,449.9 127,449.9 124.1,452 125.2,455.4 122.4,453.3 119.5,455.4 120.6,452 117.7,449.9 121.3,449.9"/><polygon points="124.9,446.4 126,449.8 129.5,449.8 126.6,451.9 127.7,455.3 124.9,453.2 122,455.3 123.1,451.9 120.2,449.8 123.8,449.8"/><polygon points="127.4,446.3 128.5,449.7 132,449.7 129.1,451.8 130.2,455.2 127.4,453.1 124.5,455.2 125.6,451.8 122.7,449.7 126.3,449.7"/><polygon points="129.9,446.2 131,449.6 134.5,449.6 131.6,451.7 132.7,455.1 129.9,453 127,455.1 128.1,451.7 125.2,449.6 128.8,449.6"/><polygon points="132.4,446 133.5,449.4 137,449.4 134.1,451.5 135.2,454.9 132.4,452.8 129.5,454.9 130.6,451.5 127.7,449.4 131.3,449.4"/><polygon points="134.8,445.6 135.9,449 139.5,449 136.6,451.1 137.7,454.4 134.8,452.3 131.9,454.4 133,451.1 130.2,449 133.7,449"/><polygon points="137.3,445.1 138.4,448.5 141.9,448.5 139,450.6 140.1,454 137.3,451.9 134.4,454 135.5,450.6 132.6,448.5 136.2,448.5"/><polygon points="139.7,444.7 140.8,448 144.4,448 141.5,450.1 142.6,453.5 139.7,451.4 136.8,453.5 137.9,450.1 135.1,448 138.6,448"/><polygon points="142.1,444 143.2,447.4 146.8,447.4 143.9,449.5 145,452.9 142.1,450.8 139.3,452.9 140.4,449.5 137.5,447.4 141,447.4"/><polygon points="144.5,443.3 145.6,446.7 149.2,446.7 146.3,448.8 147.4,452.2 144.5,450.1 141.7,452.2 142.8,448.8 139.9,446.7 143.4,446.7"/><polygon points="146.9,442.6 148,446 151.6,446 148.7,448.1 149.8,451.5 146.9,449.4 144.1,451.5 145.2,448.1 142.3,446 145.8,446"/><polygon points="153.1,441 154.2,444.4 157.8,444.4 154.9,446.5 156,449.9 153.1,447.8 150.2,449.9 151.3,446.5 148.4,444.4 152,444.4"/><polygon points="158.2,439 159.3,442.4 162.9,442.4 160,444.5 161.1,447.9 158.2,445.8 155.3,447.9 156.4,444.5 153.5,442.4 157.1,442.4"/><polygon points="163.8,435.6 164.9,439 168.5,439 165.6,441.1 166.7,444.5 163.8,442.4 160.9,444.5 162,441.1 159.1,439 162.7,439"/><polygon points="169.6,431.3 170.7,434.7 174.3,434.7 171.4,436.8 172.5,440.2 169.6,438.1 166.7,440.2 167.8,436.8 164.9,434.7 168.5,434.7"/><polygon points="176.5,425.1 177.6,428.5 181.2,428.5 178.3,430.6 179.4,434 176.5,431.9 173.6,434 174.7,430.6 171.8,428.5 175.4,428.5"/><polygon points="183.4,417.8 184.5,421.2 188.1,421.2 185.2,423.3 186.3,426.7 183.4,424.6 180.5,426.7 181.6,423.3 178.7,421.2 182.3,421.2"/><polygon points="191.2,409.2 192.3,412.6 195.9,412.6 193,414.7 194.1,418.1 191.2,416 188.3,418.1 189.4,414.7 186.5,412.6 190.1,412.6"/><polygon points="198.8,399 199.9,402.4 203.5,402.4 200.6,404.5 201.7,407.9 198.8,405.8 195.9,407.9 197,404.5 194.1,402.4 197.7,402.4"/><polygon points="207.5,385.1 208.6,388.5 212.2,388.5 209.3,390.6 210.4,394 207.5,391.9 204.6,394 205.7,390.6 202.8,388.5 206.4,388.5"/><polygon points="216.6,371.8 217.7,375.2 221.3,375.2 218.4,377.3 219.5,380.7 216.6,378.6 213.7,380.7 214.8,377.3 211.9,375.2 215.5,375.2"/><polygon points="225.4,356 226.5,359.4 230.1,359.4 227.2,361.5 228.3,364.9 225.4,362.8 222.5,364.9 223.6,361.5 220.7,359.4 224.3,359.4"/><polygon points="235.4,339.1 236.5,342.5 240.1,342.5 237.2,344.6 238.3,348 235.4,345.9 232.5,348 233.6,344.6 230.7,342.5 234.3,342.5"/><polygon points="247.2,315.3 248.3,318.7 251.9,318.7 249,320.8 250.1,324.2 247.2,322.1 244.3,324.2 245.4,320.8 242.5,318.7 246.1,318.7"/><polygon points="260.6,299 261.7,302.4 265.3,302.4 262.4,304.5 263.5,307.9 260.6,305.8 257.7,307.9 258.8,304.5 255.9,302.4 259.5,302.4"/><polygon points="270.6,307.8 271.7,311.2 275.3,311.2 272.4,313.3 273.5,316.7 270.6,314.6 267.7,316.7 268.8,313.3 265.9,311.2 269.5,311.2"/><polygon points="279.4,332.9 280.5,336.3 284.1,336.3 281.2,338.4 282.3,341.8 279.4,339.7 276.5,341.8 277.6,338.4 274.7,336.3 278.3,336.3"/><polygon points="288.9,359.8 290,363.2 293.6,363.2 290.7,365.3 291.8,368.7 288.9,366.6 286,368.7 287.1,365.3 284.2,363.2 287.8,363.2"/><polygon points="298.2,381.9 299.3,385.3 302.9,385.3 300,387.4 301.1,390.8 298.2,388.7 295.3,390.8 296.4,387.4 293.5,385.3 297.1,385.3"/><polygon points="306.4,397.7 307.5,401.1 311.1,401.1 308.2,403.2 309.3,406.6 306.4,404.5 303.5,406.6 304.6,403.2 301.7,401.1 305.3,401.1"/><polygon points="313.7,409.9 314.8,413.3 318.4,413.3 315.5,415.4 316.6,418.8 313.7,416.7 310.8,418.8 311.9,415.4 309,413.3 312.6,413.3"/><polygon points="319,421.7 320.1,425.1 323.7,425.1 320.8,427.2 321.9,430.6 319,428.5 316.1,430.6 317.2,427.2 314.3,425.1 317.9,425.1"/><polygon points="323.8,434.5 324.9,437.9 328.5,437.9 325.6,440 326.7,443.4 323.8,441.3 320.9,443.4 322,440 319.1,437.9 322.7,437.9"/><polygon points="328.6,444.9 329.7,448.3 333.3,448.3 330.4,450.4 331.5,453.8 328.6,451.7 325.7,453.8 326.8,450.4 323.9,448.3 327.5,448.3"/><polygon points="332,451.1 333.1,454.5 336.7,454.5 333.8,456.6 334.9,460 332,457.9 329.1,460 330.2,456.6 327.3,454.5 330.9,454.5"/>
</g>
<polyline points="82.7,450.7 112.9,450.7 144,447.8 177.4,427.8 210.3,388 261.1,297.6 333.9,463.1" fill="none" stroke="#f00" stroke-width="2" stroke-dasharray="2 3.3"/>
<g fill="none" stroke="#f00" stroke-width="3.2">
<path d="M77.7 445.6L87.8 455.8M77.7 455.8L87.8 445.6"/><path d="M107.9 445.6L118 455.8M107.9 455.8L118 445.6"/><path d="M138.9 442.8L149.1 452.9M138.9 452.9L149.1 442.8"/><path d="M172.3 422.8L182.5 432.9M172.3 432.9L182.5 422.8"/><path d="M205.2 382.9L215.4 393.1M205.2 393.1L215.4 382.9"/><path d="M256.1 292.6L266.2 302.7M256.1 302.7L266.2 292.6"/><path d="M328.8 458.1L338.9 468.2M328.8 468.2L338.9 458.1"/>
</g>
</g>
<g clip-path="url(#cp3)">
<g fill="#A9A9A9" stroke="#000" stroke-width="1.25">
<rect x="389.6" y="445.8" width="9.9" height="9.9"/><rect x="431.6" y="446.6" width="9.9" height="9.9"/><rect x="453.4" y="445.8" width="9.9" height="9.9"/><rect x="499.9" y="437.1" width="9.9" height="9.9"/><rect x="514.3" y="437.9" width="9.9" height="9.9"/><rect x="529.8" y="444.1" width="9.9" height="9.9"/><rect x="530.3" y="443" width="9.9" height="9.9"/><rect x="530.9" y="441.8" width="9.9" height="9.9"/><rect x="531.5" y="440.5" width="9.9" height="9.9"/><rect x="532.4" y="438.7" width="9.9" height="9.9"/><rect x="533.7" y="436.5" width="9.9" height="9.9"/><rect x="535.8" y="433.8" width="9.9" height="9.9"/><rect x="538.8" y="429.7" width="9.9" height="9.9"/><rect x="542.2" y="424.2" width="9.9" height="9.9"/><rect x="547" y="413.7" width="9.9" height="9.9"/><rect x="552.5" y="397.1" width="9.9" height="9.9"/><rect x="558.8" y="368.6" width="9.9" height="9.9"/><rect x="565.3" y="339.2" width="9.9" height="9.9"/><rect x="578.4" y="312.2" width="9.9" height="9.9"/><rect x="587.9" y="319.1" width="9.9" height="9.9"/><rect x="596.8" y="335.4" width="9.9" height="9.9"/><rect x="605.2" y="360.4" width="9.9" height="9.9"/><rect x="612.3" y="389.4" width="9.9" height="9.9"/><rect x="619.5" y="421.6" width="9.9" height="9.9"/><rect x="627" y="455.4" width="9.9" height="9.9"/><rect x="633.8" y="484.2" width="9.9" height="9.9"/><rect x="639.8" y="500.2" width="9.9" height="9.9"/>
</g>
<g fill="#5F9EA0" stroke="#000" stroke-width="1.25">
<circle cx="394.5" cy="450.7" r="5.1"/><circle cx="444.4" cy="453.3" r="5.1"/><circle cx="464.1" cy="452" r="5.1"/><circle cx="472.5" cy="450.4" r="5.1"/><circle cx="482.5" cy="449.1" r="5.1"/><circle cx="495.6" cy="446" r="5.1"/><circle cx="507.4" cy="440.7" r="5.1"/><circle cx="521.4" cy="438.9" r="5.1"/><circle cx="534.3" cy="448.3" r="5.1"/><circle cx="534.8" cy="447.3" r="5.1"/><circle cx="535.3" cy="446.2" r="5.1"/><circle cx="536" cy="445" r="5.1"/><circle cx="536.7" cy="443.5" r="5.1"/><circle cx="537.7" cy="441.5" r="5.1"/><circle cx="539.4" cy="439.2" r="5.1"/><circle cx="541.9" cy="436" r="5.1"/><circle cx="545.1" cy="431.6" r="5.1"/><circle cx="548.1" cy="425.8" r="5.1"/><circle cx="551.3" cy="422" r="5.1"/><circle cx="556.6" cy="409.3" r="5.1"/><circle cx="562.5" cy="383.8" r="5.1"/><circle cx="569.5" cy="350.4" r="5.1"/><circle cx="576.3" cy="329" r="5.1"/><circle cx="593.9" cy="334.8" r="5.1"/><circle cx="603.5" cy="356.1" r="5.1"/><circle cx="612.7" cy="382.3" r="5.1"/><circle cx="620.4" cy="415.2" r="5.1"/><circle cx="628.8" cy="451.9" r="5.1"/><circle cx="636.8" cy="486.5" r="5.1"/><circle cx="642.7" cy="509.2" r="5.1"/><circle cx="646.9" cy="516.3" r="5.1"/><circle cx="650.9" cy="523" r="5.1"/>
</g>
<g fill="#8FBC8F" stroke="#000" stroke-width="1.2" stroke-linejoin="miter">
<polygon points="503.2,457.3 513.2,462.3 503.2,467.3"/><polygon points="548.4,516.6 558.4,521.6 548.4,526.6"/><polygon points="548.4,515.9 558.4,520.9 548.4,525.9"/><polygon points="548.4,515.2 558.4,520.2 548.4,525.2"/><polygon points="548.5,514.5 558.5,519.5 548.5,524.5"/><polygon points="548.6,513.6 558.6,518.6 548.6,523.6"/><polygon points="548.8,512.6 558.8,517.6 548.8,522.6"/><polygon points="549.3,511.5 559.3,516.5 549.3,521.5"/><polygon points="550.2,510.2 560.2,515.2 550.2,520.2"/><polygon points="552.7,506.7 562.7,511.7 552.7,516.7"/><polygon points="556.7,503 566.7,508 556.7,513"/><polygon points="561.7,500.7 571.7,505.7 561.7,510.7"/><polygon points="565.2,495.2 575.2,500.2 565.2,505.2"/><polygon points="571.1,477.5 581.1,482.5 571.1,487.5"/><polygon points="577.2,455.7 587.2,460.7 577.2,465.7"/><polygon points="583.3,427 593.3,432 583.3,437"/><polygon points="587.9,404.3 597.9,409.3 587.9,414.3"/><polygon points="594.5,397 604.5,402 594.5,407"/><polygon points="603.8,406.2 613.8,411.2 603.8,416.2"/><polygon points="613.7,428.3 623.7,433.3 613.7,438.3"/><polygon points="622.5,452.2 632.5,457.2 622.5,462.2"/><polygon points="629.7,479.4 639.7,484.4 629.7,489.4"/><polygon points="636.6,514 646.6,519 636.6,524"/>
</g>
<g fill="#DAA520" stroke="#000" stroke-width="1.1" stroke-linejoin="miter">
<polygon points="394.5,445.8 395.6,449.2 399.2,449.2 396.3,451.3 397.4,454.7 394.5,452.6 391.6,454.7 392.7,451.3 389.8,449.2 393.4,449.2"/><polygon points="434.4,445.8 435.5,449.2 439.1,449.2 436.2,451.3 437.3,454.7 434.4,452.6 431.5,454.7 432.6,451.3 429.7,449.2 433.3,449.2"/><polygon points="463.6,445.1 464.7,448.5 468.3,448.5 465.4,450.6 466.5,454 463.6,451.9 460.7,454 461.8,450.6 458.9,448.5 462.5,448.5"/><polygon points="489,440.3 490.1,443.7 493.7,443.7 490.8,445.8 491.9,449.2 489,447.1 486.1,449.2 487.2,445.8 484.3,443.7 487.9,443.7"/><polygon points="513.5,434 514.6,437.4 518.2,437.4 515.3,439.5 516.4,442.9 513.5,440.8 510.6,442.9 511.7,439.5 508.8,437.4 512.4,437.4"/><polygon points="533.5,442.6 534.6,446 538.2,446 535.3,448.1 536.4,451.5 533.5,449.4 530.6,451.5 531.7,448.1 528.8,446 532.4,446"/><polygon points="533.9,441.7 535,445.1 538.6,445.1 535.7,447.2 536.8,450.6 533.9,448.5 531.1,450.6 532.2,447.2 529.3,445.1 532.8,445.1"/><polygon points="534.4,440.8 535.5,444.2 539.1,444.2 536.2,446.3 537.3,449.7 534.4,447.6 531.5,449.7 532.6,446.3 529.7,444.2 533.3,444.2"/><polygon points="534.9,439.7 536,443.1 539.6,443.1 536.7,445.2 537.8,448.6 534.9,446.5 532.1,448.6 533.2,445.2 530.3,443.1 533.8,443.1"/><polygon points="535.6,438.5 536.7,441.9 540.2,441.9 537.3,444 538.4,447.3 535.6,445.3 532.7,447.3 533.8,444 530.9,441.9 534.5,441.9"/><polygon points="536.3,437 537.4,440.4 541,440.4 538.1,442.4 539.2,445.8 536.3,443.7 533.4,445.8 534.5,442.4 531.7,440.4 535.2,440.4"/><polygon points="537.4,435.1 538.5,438.5 542.1,438.5 539.2,440.5 540.3,443.9 537.4,441.8 534.5,443.9 535.6,440.5 532.8,438.5 536.3,438.5"/><polygon points="539.3,432.7 540.4,436.1 543.9,436.1 541,438.2 542.1,441.6 539.3,439.5 536.4,441.6 537.5,438.2 534.6,436.1 538.2,436.1"/><polygon points="541.7,429.5 542.8,432.9 546.3,432.9 543.4,435 544.5,438.4 541.7,436.3 538.8,438.4 539.9,435 537,432.9 540.6,432.9"/><polygon points="545,424.6 546.1,427.9 549.7,427.9 546.8,430 547.9,433.4 545,431.3 542.1,433.4 543.2,430 540.4,427.9 543.9,427.9"/><polygon points="548.2,418.3 549.3,421.7 552.9,421.7 550,423.8 551.1,427.2 548.2,425.1 545.3,427.2 546.4,423.8 543.5,421.7 547.1,421.7"/><polygon points="553.2,405.8 554.3,409.2 557.9,409.2 555,411.3 556.1,414.7 553.2,412.6 550.3,414.7 551.4,411.3 548.5,409.2 552.1,409.2"/><polygon points="560.7,379.4 561.8,382.8 565.4,382.8 562.5,384.9 563.6,388.3 560.7,386.2 557.8,388.3 558.9,384.9 556,382.8 559.6,382.8"/><polygon points="568.3,342.4 569.4,345.8 573,345.8 570.1,347.9 571.2,351.3 568.3,349.2 565.4,351.3 566.5,347.9 563.6,345.8 567.2,345.8"/><polygon points="576.3,314 577.4,317.4 581,317.4 578.1,319.5 579.2,322.9 576.3,320.8 573.4,322.9 574.5,319.5 571.6,317.4 575.2,317.4"/><polygon points="585.1,302.7 586.2,306.1 589.8,306.1 586.9,308.2 588,311.6 585.1,309.5 582.2,311.6 583.3,308.2 580.4,306.1 584,306.1"/><polygon points="597.2,318.6 598.3,322 601.9,322 599,324.1 600.1,327.5 597.2,325.4 594.3,327.5 595.4,324.1 592.5,322 596.1,322"/><polygon points="608.5,351.2 609.6,354.6 613.2,354.6 610.3,356.7 611.4,360.1 608.5,358 605.6,360.1 606.7,356.7 603.8,354.6 607.4,354.6"/><polygon points="619.8,393.7 620.9,397.1 624.5,397.1 621.6,399.2 622.7,402.6 619.8,400.5 616.9,402.6 618,399.2 615.1,397.1 618.7,397.1"/><polygon points="628.8,436.9 629.9,440.3 633.5,440.3 630.6,442.4 631.7,445.8 628.8,443.7 625.9,445.8 627,442.4 624.1,440.3 627.7,440.3"/><polygon points="637.6,475.8 638.7,479.2 642.3,479.2 639.4,481.3 640.5,484.7 637.6,482.6 634.7,484.7 635.8,481.3 632.9,479.2 636.5,479.2"/><polygon points="645.3,497.6 646.4,501 650,501 647.1,503.1 648.2,506.5 645.3,504.4 642.4,506.5 643.5,503.1 640.6,501 644.2,501"/><polygon points="650.9,504.3 652,507.7 655.6,507.7 652.7,509.8 653.8,513.2 650.9,511.1 648,513.2 649.1,509.8 646.2,507.7 649.8,507.7"/><polygon points="654.1,509.6 655.2,513 658.8,513 655.9,515.1 657,518.5 654.1,516.4 651.2,518.5 652.3,515.1 649.4,513 653,513"/><polygon points="657.3,514.9 658.4,518.3 662,518.3 659.1,520.4 660.2,523.8 657.3,521.7 654.4,523.8 655.5,520.4 652.6,518.3 656.2,518.3"/><polygon points="660.8,522.1 661.9,525.5 665.5,525.5 662.6,527.6 663.7,531 660.8,528.9 657.9,531 659,527.6 656.1,525.5 659.7,525.5"/><polygon points="664,527.4 665.1,530.8 668.7,530.8 665.8,532.9 666.9,536.3 664,534.2 661.1,536.3 662.2,532.9 659.3,530.8 662.9,530.8"/><polygon points="666.1,532.2 667.2,535.6 670.8,535.6 667.9,537.7 669,541.1 666.1,539 663.2,541.1 664.3,537.7 661.4,535.6 665,535.6"/><polygon points="668.8,541.5 669.9,544.9 673.5,544.9 670.6,547 671.7,550.4 668.8,548.3 665.9,550.4 667,547 664.1,544.9 667.7,544.9"/>
</g>
<polyline points="394.5,450.7 455.4,452.5 496.4,447.3 537.6,450.3 584.1,324.7 620.6,423.8 668.8,541.9" fill="none" stroke="#f00" stroke-width="2" stroke-dasharray="2 3.3"/>
<g fill="none" stroke="#f00" stroke-width="3.2">
<path d="M389.4 445.6L399.6 455.8M389.4 455.8L399.6 445.6"/><path d="M450.3 447.4L460.4 457.6M450.3 457.6L460.4 447.4"/><path d="M491.3 442.2L501.4 452.4M491.3 452.4L501.4 442.2"/><path d="M532.6 445.2L542.6 455.4M532.6 455.4L542.6 445.2"/><path d="M579.1 319.6L589.1 329.8M579.1 329.8L589.1 319.6"/><path d="M615.6 418.8L625.6 428.9M615.6 428.9L625.6 418.8"/><path d="M663.8 536.9L673.8 546.9M663.8 546.9L673.8 536.9"/>
</g>
</g>
<path d="M82.9 274v-7.3 M82.9 0.8v7.3 M127.5 274v-4.2 M127.5 0.8v4.2 M172.1 274v-7.3 M172.1 0.8v7.3 M216.6 274v-4.2 M216.6 0.8v4.2 M261.2 274v-7.3 M261.2 0.8v7.3 M305.8 274v-4.2 M305.8 0.8v4.2 M350.4 274v-7.3 M350.4 0.8v7.3 M69.7 266.2h7.3 M373.1 266.2h-7.3 M69.7 242.1h4.2 M373.1 242.1h-4.2 M69.7 218h7.3 M373.1 218h-7.3 M69.7 193.8h4.2 M373.1 193.8h-4.2 M69.7 169.7h7.3 M373.1 169.7h-7.3 M69.7 145.6h4.2 M373.1 145.6h-4.2 M69.7 121.4h7.3 M373.1 121.4h-7.3 M69.7 97.3h4.2 M373.1 97.3h-4.2 M69.7 73.2h7.3 M373.1 73.2h-7.3 M69.7 49h4.2 M373.1 49h-4.2 M69.7 24.9h7.3 M373.1 24.9h-7.3" fill="none" stroke="#000" stroke-width="1.7"/>
<rect x="69.7" y="0.8" width="303.4" height="273.2" fill="none" stroke="#000" stroke-width="2.1"/>
<text x="62.5" y="272.7" text-anchor="end" font-size="18">−0.4</text>
<text x="62.5" y="224.5" text-anchor="end" font-size="18">−0.2</text>
<text x="62.5" y="176.2" text-anchor="end" font-size="18">0.0</text>
<text x="62.5" y="127.9" text-anchor="end" font-size="18">0.2</text>
<text x="62.5" y="79.7" text-anchor="end" font-size="18">0.4</text>
<text x="62.5" y="31.4" text-anchor="end" font-size="18">0.6</text>
<path d="M394.4 274v-7.3 M394.4 0.8v7.3 M439 274v-4.2 M439 0.8v4.2 M483.6 274v-7.3 M483.6 0.8v7.3 M528.1 274v-4.2 M528.1 0.8v4.2 M572.7 274v-7.3 M572.7 0.8v7.3 M617.3 274v-4.2 M617.3 0.8v4.2 M661.9 274v-7.3 M661.9 0.8v7.3 M381.2 266.2h7.3 M684 266.2h-7.3 M381.2 242.1h4.2 M684 242.1h-4.2 M381.2 218h7.3 M684 218h-7.3 M381.2 193.8h4.2 M684 193.8h-4.2 M381.2 169.7h7.3 M684 169.7h-7.3 M381.2 145.6h4.2 M684 145.6h-4.2 M381.2 121.4h7.3 M684 121.4h-7.3 M381.2 97.3h4.2 M684 97.3h-4.2 M381.2 73.2h7.3 M684 73.2h-7.3 M381.2 49h4.2 M684 49h-4.2 M381.2 24.9h7.3 M684 24.9h-7.3" fill="none" stroke="#000" stroke-width="1.7"/>
<rect x="381.2" y="0.8" width="302.8" height="273.2" fill="none" stroke="#000" stroke-width="2.1"/>
<path d="M82.9 554.5v-7.3 M82.9 281.4v7.3 M127.5 554.5v-4.2 M127.5 281.4v4.2 M172.1 554.5v-7.3 M172.1 281.4v7.3 M216.6 554.5v-4.2 M216.6 281.4v4.2 M261.2 554.5v-7.3 M261.2 281.4v7.3 M305.8 554.5v-4.2 M305.8 281.4v4.2 M350.4 554.5v-7.3 M350.4 281.4v7.3 M69.7 547.3h7.3 M373.1 547.3h-7.3 M69.7 523.2h4.2 M373.1 523.2h-4.2 M69.7 499.1h7.3 M373.1 499.1h-7.3 M69.7 474.9h4.2 M373.1 474.9h-4.2 M69.7 450.8h7.3 M373.1 450.8h-7.3 M69.7 426.7h4.2 M373.1 426.7h-4.2 M69.7 402.5h7.3 M373.1 402.5h-7.3 M69.7 378.4h4.2 M373.1 378.4h-4.2 M69.7 354.3h7.3 M373.1 354.3h-7.3 M69.7 330.1h4.2 M373.1 330.1h-4.2 M69.7 306h7.3 M373.1 306h-7.3" fill="none" stroke="#000" stroke-width="1.7"/>
<rect x="69.7" y="281.4" width="303.4" height="273.1" fill="none" stroke="#000" stroke-width="2.1"/>
<text x="62.5" y="553.8" text-anchor="end" font-size="18">−0.4</text>
<text x="62.5" y="505.6" text-anchor="end" font-size="18">−0.2</text>
<text x="62.5" y="457.3" text-anchor="end" font-size="18">0.0</text>
<text x="62.5" y="409" text-anchor="end" font-size="18">0.2</text>
<text x="62.5" y="360.8" text-anchor="end" font-size="18">0.4</text>
<text x="62.5" y="312.5" text-anchor="end" font-size="18">0.6</text>
<text x="82.9" y="574.8" text-anchor="middle" font-size="18">0</text>
<text x="172.1" y="574.8" text-anchor="middle" font-size="18">2</text>
<text x="261.2" y="574.8" text-anchor="middle" font-size="18">4</text>
<text x="350.4" y="574.8" text-anchor="middle" font-size="18">6</text>
<path d="M394.4 554.5v-7.3 M394.4 281.4v7.3 M439 554.5v-4.2 M439 281.4v4.2 M483.6 554.5v-7.3 M483.6 281.4v7.3 M528.1 554.5v-4.2 M528.1 281.4v4.2 M572.7 554.5v-7.3 M572.7 281.4v7.3 M617.3 554.5v-4.2 M617.3 281.4v4.2 M661.9 554.5v-7.3 M661.9 281.4v7.3 M381.2 547.3h7.3 M684 547.3h-7.3 M381.2 523.2h4.2 M684 523.2h-4.2 M381.2 499.1h7.3 M684 499.1h-7.3 M381.2 474.9h4.2 M684 474.9h-4.2 M381.2 450.8h7.3 M684 450.8h-7.3 M381.2 426.7h4.2 M684 426.7h-4.2 M381.2 402.5h7.3 M684 402.5h-7.3 M381.2 378.4h4.2 M684 378.4h-4.2 M381.2 354.3h7.3 M684 354.3h-7.3 M381.2 330.1h4.2 M684 330.1h-4.2 M381.2 306h7.3 M684 306h-7.3" fill="none" stroke="#000" stroke-width="1.7"/>
<rect x="381.2" y="281.4" width="302.8" height="273.1" fill="none" stroke="#000" stroke-width="2.1"/>
<text x="394.4" y="574.8" text-anchor="middle" font-size="18">0</text>
<text x="483.6" y="574.8" text-anchor="middle" font-size="18">2</text>
<text x="572.7" y="574.8" text-anchor="middle" font-size="18">4</text>
<text x="661.9" y="574.8" text-anchor="middle" font-size="18">6</text>
<text x="221.4" y="601.6" text-anchor="middle" font-size="20">Path / Å</text>
<text x="532.6" y="601.6" text-anchor="middle" font-size="20">Path / Å</text>
<text transform="translate(15.0 137.4) rotate(-90)" text-anchor="middle" font-size="20">Energy / eV</text>
<text transform="translate(15.0 418.9) rotate(-90)" text-anchor="middle" font-size="20">Energy / eV</text>
<text x="94.2" y="254.2" font-size="20" font-weight="bold">a</text>
<text x="406" y="254.2" font-size="20" font-weight="bold">b</text>
<text x="94.2" y="536" font-size="20" font-weight="bold">c</text>
<text x="406" y="536" font-size="20" font-weight="bold">d</text>
<rect x="464.6" y="162.3" width="118" height="100" rx="3.5" fill="#fff" stroke="#000" stroke-width="2"/>
<g fill="#DAA520" stroke="#000" stroke-width="1.1"><polygon points="480.8,169.3 482,173 485.8,173 482.7,175.2 483.9,178.9 480.8,176.6 477.7,178.9 478.9,175.2 475.8,173 479.6,173"/></g>
<g fill="#8FBC8F" stroke="#000" stroke-width="1.2"><polygon points="475.5,187.6 485.9,192.8 475.5,198"/></g>
<g fill="#5F9EA0" stroke="#000" stroke-width="1.25"><circle cx="480.8" cy="211.2" r="5.1"/></g>
<g fill="#A9A9A9" stroke="#000" stroke-width="1.25"><rect x="475.9" y="224.7" width="9.9" height="9.9"/></g>
<path d="M469.4 247.1H491.3" stroke="#f00" stroke-width="2" stroke-dasharray="2 3.3" fill="none"/>
<g fill="none" stroke="#f00" stroke-width="3.2"><path d="M475.8 242L485.9 252.2M475.8 252.2L485.9 242"/></g>
<text x="491.7" y="179.9" font-size="18">MACE</text>
<text x="491.7" y="198.3" font-size="18">MACE-MP</text>
<text x="492.3" y="217.2" font-size="18">f4 10%</text>
<text x="492.3" y="235.6" font-size="18">f4 20%</text>
<text x="491.7" y="253.2" font-size="18">DFT</text>
</svg>
</body></html>
